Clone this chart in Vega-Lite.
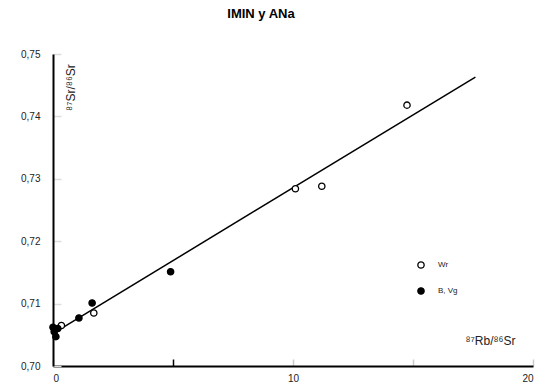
{
  "$schema": "https://vega.github.io/schema/vega-lite/v6.json",
  "width": 480,
  "height": 312,
  "autosize": {"type": "none"},
  "padding": {"left": 53, "top": 54, "right": 5, "bottom": 19},
  "background": "white",
  "title": {"text": "IMIN y ANa", "fontSize": 13, "fontWeight": "bold", "font": "Liberation Sans", "anchor": "middle", "dx": -32, "offset": 28, "color": "black"},
  "config": {
    "view": {"stroke": null},
    "axis": {
      "domainColor": "black",
      "domainWidth": 2,
      "labelFont": "Liberation Sans",
      "labelFontSize": 10,
      "labelColor": "#222",
      "titleFont": "Liberation Sans",
      "titleFontWeight": "normal",
      "titleColor": "#222",
      "grid": false
    }
  },
  "datasets": {
    "fit": [
      {"x": 0.25, "y": 0.7058},
      {"x": 17.6, "y": 0.7463}
    ],
    "pts": [
      {"x": 14.75, "y": 0.7418, "type": "Wr"},
      {"x": 10.1, "y": 0.7284, "type": "Wr"},
      {"x": 11.2, "y": 0.7288, "type": "Wr"},
      {"x": 1.7, "y": 0.7085, "type": "Wr"},
      {"x": 0.35, "y": 0.7065, "type": "Wr"},
      {"x": 4.9, "y": 0.7151, "type": "B, Vg"},
      {"x": 1.08, "y": 0.7077, "type": "B, Vg"},
      {"x": 1.63, "y": 0.7101, "type": "B, Vg"},
      {"x": 0.05, "y": 0.7055, "type": "B, Vg"},
      {"x": 0.12, "y": 0.7047, "type": "B, Vg"},
      {"x": 0.0, "y": 0.7062, "type": "B, Vg"},
      {"x": 0.2, "y": 0.706, "type": "B, Vg"}
    ]
  },
  "layer": [
    {
      "data": {"name": "fit"},
      "mark": {"type": "line", "color": "black", "strokeWidth": 1.5},
      "encoding": {
        "x": {
          "field": "x", "type": "quantitative",
          "scale": {"domain": [0, 20], "nice": false, "zero": false},
          "axis": {
            "values": [0, 5, 10, 15, 20],
            "labelExpr": "datum.value % 10 == 0 ? format(datum.value, 'd') : ''",
            "tickSize": -7,
            "tickWidth": 1.5,
            "tickColor": {"condition": {"test": "datum.value == 5", "value": "black"}, "value": "#cccccc"},
            "labelPadding": 14,
            "title": "⁸⁷Rb/⁸⁶Sr",
            "titleFontSize": 12,
            "titleX": 437,
            "titleY": -26,
            "titleAlign": "center",
            "titleBaseline": "middle"
          }
        },
        "y": {
          "field": "y", "type": "quantitative",
          "scale": {"domain": [0.70, 0.75], "nice": false, "zero": false},
          "axis": {
            "values": [0.70, 0.705, 0.71, 0.715, 0.72, 0.725, 0.73, 0.735, 0.74, 0.745, 0.75],
            "labelExpr": "abs(datum.value * 100 - round(datum.value * 100)) < 0.01 ? replace(format(datum.value, '.2f'), '.', ',') : ''",
            "tickSize": -8,
            "tickWidth": 1.5,
            "tickColor": {"condition": {"test": "abs(datum.value * 100 - round(datum.value * 100)) < 0.01", "value": "#dddddd"}, "value": "black"},
            "labelPadding": 21,
            "title": "⁸⁷Sr/⁸⁶Sr",
            "titleFontSize": 12,
            "titleAngle": -90,
            "titleX": 17,
            "titleY": 33,
            "titleAlign": "center",
            "titleBaseline": "middle"
          }
        }
      }
    },
    {
      "data": {"name": "pts"},
      "mark": {"type": "point", "filled": true, "shape": "circle", "stroke": "black", "strokeWidth": 1.3, "size": 40, "opacity": 1},
      "encoding": {
        "x": {"field": "x", "type": "quantitative"},
        "y": {"field": "y", "type": "quantitative"},
        "fill": {
          "field": "type", "type": "nominal",
          "scale": {"domain": ["Wr", "B, Vg"], "range": ["white", "black"]},
          "legend": {
            "title": null,
            "orient": "none",
            "legendX": 364,
            "legendY": 207,
            "symbolType": "circle",
            "symbolStrokeColor": "black",
            "symbolStrokeWidth": 1.3,
            "symbolSize": 40,
            "labelFont": "Liberation Sans",
            "labelFontSize": 8,
            "labelColor": "#222",
            "labelOffset": 13,
            "rowPadding": 14
          }
        }
      }
    }
  ]
}
